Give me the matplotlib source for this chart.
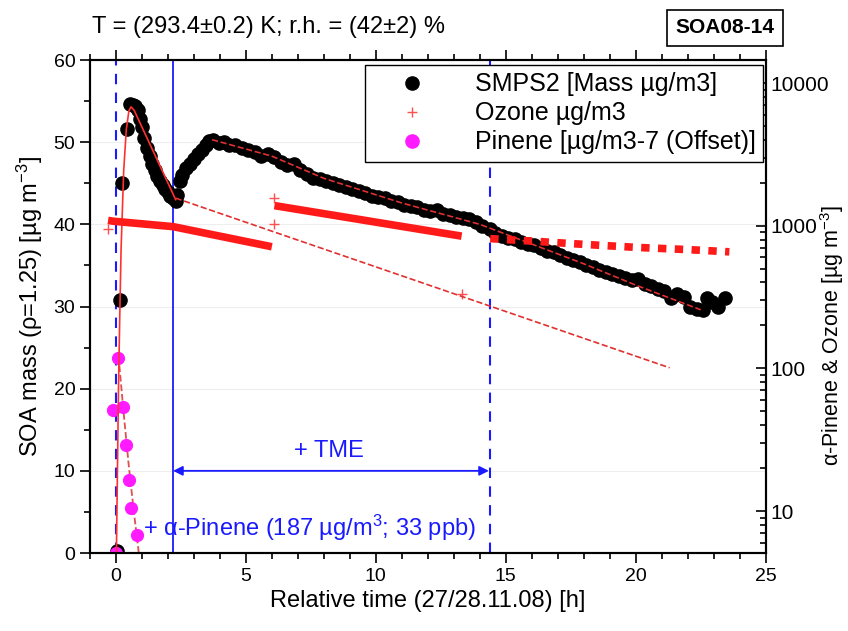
import numpy as np
import matplotlib
matplotlib.use("Agg")
import matplotlib.pyplot as plt
from matplotlib.lines import Line2D
from matplotlib.ticker import FixedLocator, FixedFormatter, LogLocator, NullFormatter

plt.rcParams['font.family'] = ['Liberation Sans', 'DejaVu Sans']
plt.rcParams['mathtext.fontset'] = 'custom'
plt.rcParams['mathtext.rm'] = 'Liberation Sans'
plt.rcParams['mathtext.it'] = 'Liberation Sans:italic'

# SMPS mass (left axis, ug/m3)
smps_t = [0.05, 0.15, 0.23, 0.42, 0.54, 0.65, 0.75, 0.85, 0.92, 1.0, 1.1, 1.2, 1.3, 1.4,
          1.5, 1.6, 1.7, 1.8, 1.9, 2.0, 2.1, 2.2, 2.3, 2.35, 2.45, 2.55, 2.7, 2.85,
          3.0, 3.15, 3.3, 3.45, 3.6, 3.75, 3.95, 4.15, 4.35, 4.6, 4.85, 5.1, 5.35,
          5.6, 5.85, 6.1, 6.35, 6.6, 6.85, 7.1, 7.35, 7.6, 7.85, 8.1, 8.35, 8.6,
          8.85, 9.1, 9.35, 9.6, 9.85, 10.1, 10.35, 10.6, 10.85, 11.1, 11.35, 11.6,
          11.85, 12.1, 12.35, 12.6, 12.85, 13.1, 13.35, 13.6, 13.85, 14.1, 14.4,
          14.6, 14.85, 15.1, 15.35, 15.6, 15.85, 16.1, 16.35, 16.6, 16.85, 17.1,
          17.35, 17.6, 17.85, 18.1, 18.35, 18.6, 18.85, 19.1, 19.35, 19.6, 19.85,
          20.1, 20.35, 20.6, 20.85, 21.1, 21.35, 21.6, 21.85, 22.1, 22.35, 22.6,
          22.75, 22.95, 23.15, 23.45]
smps_m = [0.3, 30.8, 45.0, 51.6, 54.7, 54.5, 54.4, 53.9, 52.8, 51.8, 50.5, 49.3, 48.3, 47.4,
          46.6, 45.9, 45.3, 44.8, 44.3, 43.9, 43.5, 43.2, 42.9, 43.6, 45.3, 46.0, 46.8, 47.4,
          48.0, 48.6, 49.1, 49.6, 50.1, 50.3, 49.9, 50.0, 49.6, 49.6, 49.3, 49.1, 48.8,
          48.3, 48.6, 48.2, 47.6, 47.2, 47.3, 46.6, 46.1, 45.7, 45.5, 45.3, 45.0, 44.8,
          44.6, 44.3, 44.1, 43.8, 43.5, 43.3, 43.2, 42.8, 42.7, 42.4, 42.2, 42.1,
          41.8, 41.6, 41.7, 41.3, 41.1, 40.9, 40.8, 40.6, 40.3, 39.8, 39.4,
          38.9, 38.6, 38.3, 38.2, 37.9, 37.6, 37.5, 37.1, 36.8, 36.6, 36.3,
          35.9, 35.7, 35.4, 35.0, 34.8, 34.4, 34.2, 34.0, 33.7, 33.5, 33.2,
          33.4, 32.8, 32.5, 32.1, 31.9, 31.0, 31.5, 31.2, 29.9, 29.7, 29.6,
          31.0, 30.6, 29.9, 31.0]

# fit lines for SMPS (left axis)
rise_t = [0.02, 0.06, 0.1, 0.15, 0.2, 0.3, 0.4, 0.5, 0.58, 0.7, 2.3]
rise_m = [0.0, 10.0, 20.0, 29.0, 37.0, 46.5, 51.5, 53.8, 54.3, 53.9, 43.0]
decay_t = [3.7, 6.0, 8.0, 11.0, 14.0, 16.0, 18.0, 20.0, 22.5]
decay_m = [50.3, 48.3, 45.6, 42.6, 40.0, 37.6, 35.2, 32.6, 29.6]

# pinene (left axis, offset)
pin_t = [0.0, 0.08, -0.1, 0.28, 0.38, 0.5, 0.6, 0.8, 0.92]
pin_m = [0.0, 23.7, 17.4, 17.8, 13.1, 8.9, 5.5, 2.2, -0.8]
pin_fit_t = [0.1, 0.3, 0.5, 0.7, 0.9]
pin_fit_m = [24.0, 17.0, 10.5, 4.8, -0.5]

# ozone (right axis, ug/m3)
oz1_t = [-0.3, -0.1, 2.2, 6.0]
oz1 = [1089, 1075, 985, 712]
oz2_t = [6.1, 13.3]
oz2 = [1383, 845]
oz3_t = [14.4, 16.0, 18.0, 20.0, 22.0, 23.6]
oz3 = [812, 780, 740, 705, 680, 656]
oz_pts_t = [-0.3, 6.1, 6.1, 13.3]
oz_pts = [953, 1560, 1033, 333]
oz_fit_t = [2.3, 21.3]
oz_fit = [1560, 101]

right_ticks = [10, 100, 1000, 10000]
right_labels = ['10', '100', '1000', '10000']

fig = plt.figure(figsize=(8.48, 6.31), dpi=100)
ax = fig.add_axes([0.106, 0.1236, 0.797, 0.7813])
ax2 = ax.twinx()

ax.set_xlim(-1, 25)
ax.set_ylim(0, 60)
for yy in [10, 20, 30, 40, 50]:
    ax.axhline(yy, color='#eeeeee', lw=0.8, zorder=0)

ax.axvline(0, color='#1a1aff', ls=(0, (5, 4)), lw=1.5)
ax.axvline(2.2, color='#1a1aff', lw=1.3)
ax.axvline(14.4, color='#1a1aff', ls=(0, (5, 4)), lw=1.5)

ax.plot(smps_t, smps_m, 'o', color='black', ms=9.5, zorder=3)
ax.plot(rise_t, rise_m, '-', color='#ff3030', lw=1.2, zorder=4)
ax.plot(decay_t, decay_m, '--', color='#e03030', lw=1.2, zorder=4)
ax.plot(pin_fit_t, pin_fit_m, '--', color='#e05050', lw=1.3, zorder=2)
ax.plot(pin_t, pin_m, 'o', color='#ff1aff', ms=8.5, zorder=3, clip_on=True)

ax.annotate('', xy=(2.2, 10.0), xytext=(14.35, 10.0),
            arrowprops=dict(arrowstyle='<|-|>', color='#1a1aff', lw=1.3,
                            mutation_scale=14, shrinkA=0, shrinkB=0))
ax.text(8.2, 12.4, '+ TME', color='#1a1aff', fontsize=17, ha='center', va='center')
ax.text(1.05, 3.0, '+ α-Pinene (187 µg/m$^{3}$; 33 ppb)', color='#1a1aff',
        fontsize=17, ha='left', va='center')

ax2.set_yscale('log')
ax2.set_ylim(5.08, 14500)
ax2.plot(oz1_t, oz1, '-', color='#ff1a1a', lw=5.5, solid_capstyle='butt')
ax2.plot(oz2_t, oz2, '-', color='#ff1a1a', lw=5.5, solid_capstyle='butt')
ax2.plot(oz3_t, oz3, color='#ff1a1a', lw=5.5, ls=(0, (1.1, 1.1)), dash_capstyle='butt')
ax2.plot(oz_pts_t, oz_pts, '+', color='#ff5050', ms=7, mew=1.0)
ax2.plot(oz_fit_t, oz_fit, '--', color='#e03030', lw=1.2)

ax2.yaxis.set_major_locator(FixedLocator(right_ticks))
ax2.yaxis.set_major_formatter(FixedFormatter(right_labels))
ax2.yaxis.set_minor_locator(LogLocator(base=10, subs=np.arange(2, 10)))
ax2.yaxis.set_minor_formatter(NullFormatter())

ax.set_xticks([0, 5, 10, 15, 20, 25])
ax.set_xticks(np.arange(-1, 26, 1), minor=True)
ax.set_yticks([0, 10, 20, 30, 40, 50, 60])
ax.set_yticks(np.arange(0, 61, 5), minor=True)
ax.tick_params(axis='x', which='both', direction='out', top=True, labelsize=14)
ax.tick_params(axis='x', which='major', length=7, width=1.2)
ax.tick_params(axis='x', which='minor', length=4, width=1.2)
ax.tick_params(axis='y', which='major', direction='out', length=7, width=1.2, labelsize=14)
ax.tick_params(axis='y', which='minor', direction='out', length=4, width=1.2)
ax2.tick_params(axis='y', which='major', direction='in', length=7, width=1.2, labelsize=15)
ax2.tick_params(axis='y', which='minor', direction='in', length=4, width=1.2)
for a in (ax, ax2):
    for s in a.spines.values():
        s.set_linewidth(1.5)

ax.set_xlabel('Relative time (27/28.11.08) [h]', fontsize=17)
ax.set_ylabel('SOA mass (ρ=1.25) [µg m$^{-3}$]', fontsize=17, labelpad=6)
ax2.set_ylabel('α-Pinene & Ozone [µg m$^{-3}$]', fontsize=15.5)
ax2.yaxis.set_label_coords(1.078, 0.44)

handles = [Line2D([], [], ls='none', marker='o', color='black', ms=9.5),
           Line2D([], [], ls='none', marker='+', color='#ff5050', ms=7),
           Line2D([], [], ls='none', marker='o', color='#ff1aff', ms=9.5)]
labels = ['SMPS2 [Mass µg/m3]', 'Ozone µg/m3', 'Pinene [µg/m3-7 (Offset)]']
leg = ax2.legend(handles, labels, loc='upper right', bbox_to_anchor=(0.996, 0.99),
                 fontsize=18, frameon=True, fancybox=False, edgecolor='black',
                 framealpha=1, borderpad=0.3, labelspacing=0.2, handletextpad=0.9,
                 handlelength=3.2, borderaxespad=0)
leg.get_frame().set_linewidth(1.0)

fig.text(0.108, 0.958, 'T = (293.4±0.2) K; r.h. = (42±2) %', fontsize=17, va='center')
fig.text(0.855, 0.956, 'SOA08-14', fontsize=15, fontweight='bold', ha='center', va='center',
         bbox=dict(boxstyle='square,pad=0.4', fc='white', ec='black', lw=1.2))

fig.savefig('out.png', dpi=100)
